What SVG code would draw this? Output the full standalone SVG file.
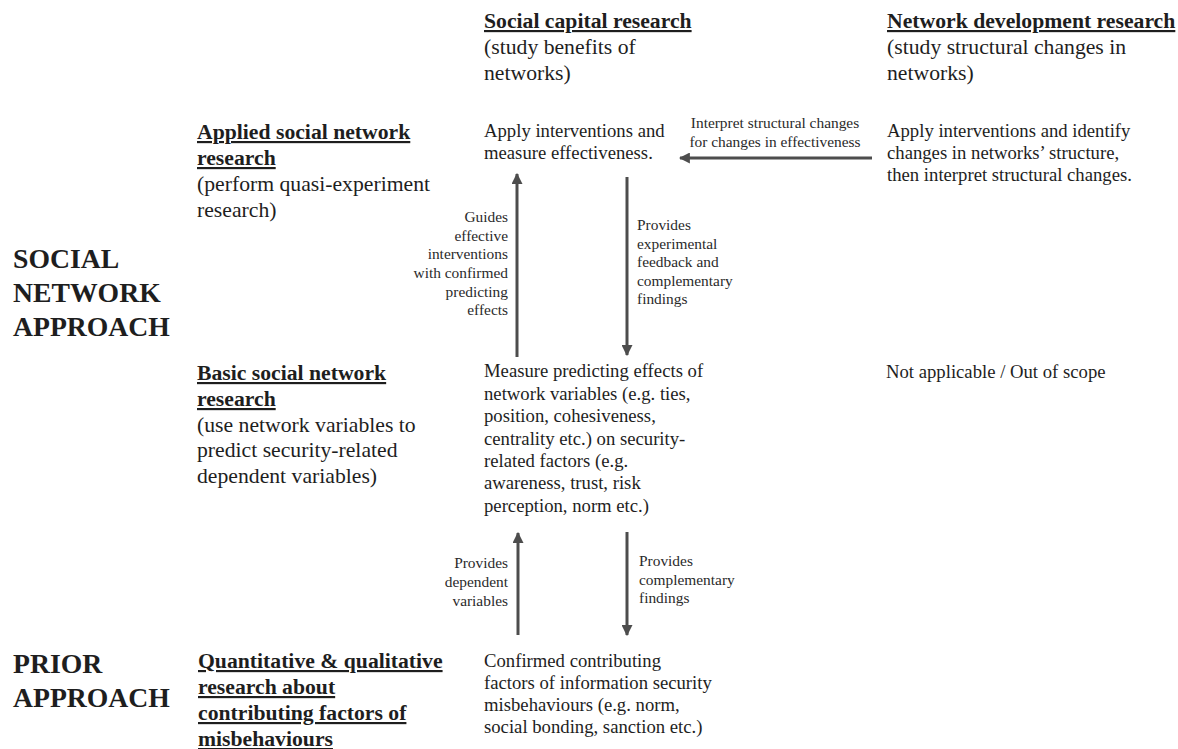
<svg xmlns="http://www.w3.org/2000/svg" width="1178" height="749" viewBox="0 0 1178 749">
<style>
text{font-family:'Liberation Serif','DejaVu Serif',serif;fill:#1e1e1e}
.big{font-size:27.7px;font-weight:bold}
.hd{font-size:21.7px;font-weight:bold;text-decoration:underline}
.sub{font-size:21.7px}
.body{font-size:18.7px}
.lbl{font-size:15.4px;fill:#2a2a2a}
.end{text-anchor:end}
.mid{text-anchor:middle}
.arr{stroke:#4d4d4d;stroke-width:3;fill:none;marker-end:url(#ah)}
</style>
<defs>
<marker id="ah" viewBox="0 0 10 10" refX="9" refY="5" markerWidth="11" markerHeight="11" markerUnits="userSpaceOnUse" orient="auto">
<path d="M0,0 L10,5 L0,10 Z" fill="#4d4d4d"/>
</marker>
</defs>
<rect width="1178" height="749" fill="#ffffff"/>
<g font-family="Liberation Serif, DejaVu Serif, serif">
<g id="row-labels">
<text class="big" x="13" y="268">SOCIAL</text>
<text class="big" x="13" y="302">NETWORK</text>
<text class="big" x="13" y="336">APPROACH</text>
<text class="big" x="13" y="673">PRIOR</text>
<text class="big" x="13" y="707">APPROACH</text>
</g>

<g id="social-capital-header">
<text class="hd" x="484" y="28">Social capital research</text>
<text class="sub" x="484" y="54">(study benefits of</text>
<text class="sub" x="484" y="80">networks)</text>
</g>

<g id="network-development-header">
<text class="hd" x="887" y="28">Network development research</text>
<text class="sub" x="887" y="54">(study structural changes in</text>
<text class="sub" x="887" y="80">networks)</text>
</g>

<g id="applied-research">
<text class="hd" x="197" y="139">Applied social network</text>
<text class="hd" x="197" y="165">research</text>
<text class="sub" x="197" y="191">(perform quasi-experiment</text>
<text class="sub" x="197" y="217">research)</text>
</g>

<g id="basic-research">
<text class="hd" x="197" y="380">Basic social network</text>
<text class="hd" x="197" y="406">research</text>
<text class="sub" x="197" y="432">(use network variables to</text>
<text class="sub" x="197" y="457">predict security-related</text>
<text class="sub" x="197" y="483">dependent variables)</text>
</g>

<g id="prior-research">
<text class="hd" x="198" y="668">Quantitative &amp; qualitative</text>
<text class="hd" x="198" y="694">research about</text>
<text class="hd" x="198" y="720">contributing factors of</text>
<text class="hd" x="198" y="746">misbehaviours</text>
</g>

<g id="apply-measure">
<text class="body" x="484" y="137">Apply interventions and</text>
<text class="body" x="484" y="159">measure effectiveness.</text>
</g>

<g id="apply-identify">
<text class="body" x="887" y="137">Apply interventions and identify</text>
<text class="body" x="887" y="159">changes in networks’ structure,</text>
<text class="body" x="887" y="181">then interpret structural changes.</text>
</g>

<g id="measure-predicting">
<text class="body" x="484" y="377">Measure predicting effects of</text>
<text class="body" x="484" y="400">network variables (e.g. ties,</text>
<text class="body" x="484" y="422">position, cohesiveness,</text>
<text class="body" x="484" y="445">centrality etc.) on security-</text>
<text class="body" x="484" y="467">related factors (e.g.</text>
<text class="body" x="484" y="489">awareness, trust, risk</text>
<text class="body" x="484" y="512">perception, norm etc.)</text>
</g>

<g id="not-applicable">
<text class="body" x="886" y="378">Not applicable / Out of scope</text>
</g>

<g id="confirmed-factors">
<text class="body" x="484" y="667">Confirmed contributing</text>
<text class="body" x="484" y="689">factors of information security</text>
<text class="body" x="484" y="711">misbehaviours (e.g. norm,</text>
<text class="body" x="484" y="733">social bonding, sanction etc.)</text>
</g>

<g id="connectors">
<line class="arr" x1="872" y1="158" x2="680" y2="158"/>
<line class="arr" x1="517" y1="357" x2="517" y2="174"/>
<line class="arr" x1="627" y1="177" x2="627" y2="355"/>
<line class="arr" x1="518" y1="635" x2="518" y2="533"/>
<line class="arr" x1="627" y1="532" x2="627" y2="635"/>
<g id="connector-labels">
<text class="lbl mid" x="775" y="128">Interpret structural changes</text>
<text class="lbl mid" x="775" y="147">for changes in effectiveness</text>
<text class="lbl end" x="508" y="222">Guides</text>
<text class="lbl end" x="508" y="241">effective</text>
<text class="lbl end" x="508" y="259">interventions</text>
<text class="lbl end" x="508" y="278">with confirmed</text>
<text class="lbl end" x="508" y="297">predicting</text>
<text class="lbl end" x="508" y="315">effects</text>
<text class="lbl" x="637" y="230">Provides</text>
<text class="lbl" x="637" y="249">experimental</text>
<text class="lbl" x="637" y="267">feedback and</text>
<text class="lbl" x="637" y="286">complementary</text>
<text class="lbl" x="637" y="304">findings</text>
<text class="lbl end" x="508" y="568">Provides</text>
<text class="lbl end" x="508" y="587">dependent</text>
<text class="lbl end" x="508" y="606">variables</text>
<text class="lbl" x="639" y="566">Provides</text>
<text class="lbl" x="639" y="585">complementary</text>
<text class="lbl" x="639" y="603">findings</text>
</g>
</g>
</g>
</svg>
